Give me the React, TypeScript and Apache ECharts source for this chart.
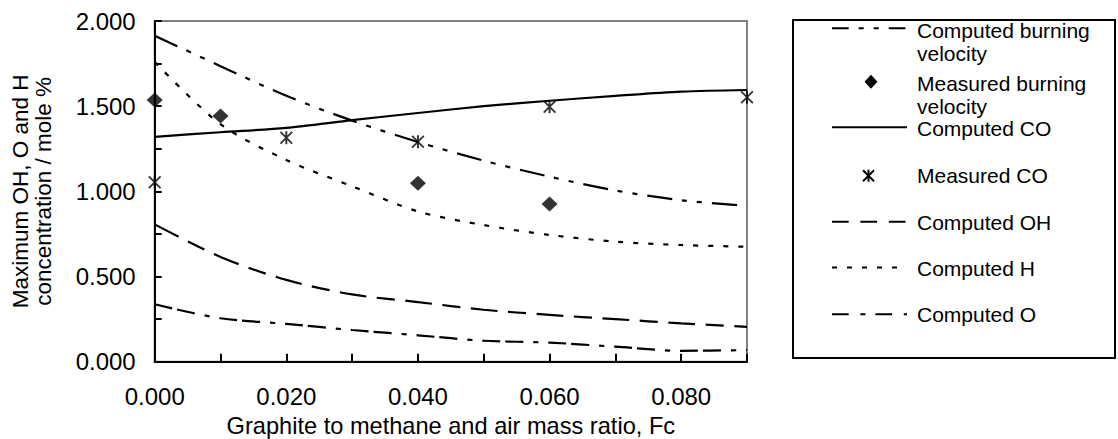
import React, { useEffect, useRef } from "react";
import * as echarts from "echarts";

const FONT = '"Liberation Sans", Arial, Helvetica, sans-serif';

// x positions of the computed curves (Fc)
const xs = [0, 0.01, 0.02, 0.03, 0.04, 0.05, 0.06, 0.07, 0.08, 0.09];
const computedBV = [1.914, 1.735, 1.561, 1.415, 1.29, 1.18, 1.086, 1.005, 0.948, 0.915];
const computedCO = [1.32, 1.347, 1.373, 1.418, 1.46, 1.5, 1.532, 1.56, 1.585, 1.595];
const computedOH = [0.806, 0.615, 0.48, 0.395, 0.35, 0.305, 0.275, 0.25, 0.225, 0.205];
const computedH = [1.76, 1.394, 1.184, 1.03, 0.882, 0.802, 0.744, 0.705, 0.685, 0.675];
const computedO = [0.337, 0.255, 0.222, 0.186, 0.155, 0.123, 0.112, 0.088, 0.064, 0.068];

const measuredBVx = [0, 0.01, 0.04, 0.06];
const measuredBV = [1.536, 1.442, 1.047, 0.926];
const measuredCOx = [0, 0.02, 0.04, 0.06, 0.09];
const measuredCO = [1.053, 1.315, 1.291, 1.497, 1.552];

const legendNames = [
  "Computed burning\nvelocity",
  "Measured burning\nvelocity",
  "Computed CO",
  "Measured CO",
  "Computed OH",
  "Computed H",
  "Computed O",
];

const ASTERISK =
  "path://M5.1 0H6.9V12H5.1Z M0 1.2L1.2 0L12 10.8L10.8 12Z M10.8 0L12 1.2L1.2 12L0 10.8Z";

function pairs(x: number[], y: number[]) {
  return x.map((v, i) => [v, y[i]]);
}

export default function App() {
  const ref = useRef<HTMLDivElement>(null);

  useEffect(() => {
    if (!ref.current) return;
    const chart = echarts.init(ref.current, undefined, { renderer: "svg" });

    const lineSeries = (name: string, data: number[], dash: number[] | "solid") => ({
      name,
      type: "line",
      data: pairs(xs, data),
      smooth: 0.3,
      symbol: "none",
      showSymbol: false,
      lineStyle: { color: "#000", width: 2.2, type: dash },
      z: 3,
    });

    // legend drawn with graphic elements
    const lx1 = 832;
    const lx2 = 907;
    const tx = 917;
    const rows = [28.3, 81.7, 127.3, 175.7, 221.7, 267.5, 314.3];
    const textCenters = [30, 83, 128, 175.5, 222, 268, 314.5];
    const legendDash: (number[] | null)[] = [
      [16.7, 10, 5, 10, 5, 10],
      null,
      null,
      null,
      [16.7, 11.7],
      [5, 10],
      [16.7, 11.7, 5, 10],
    ];
    const graphics: any[] = [
      {
        type: "rect",
        shape: { x: 793, y: 20, width: 322, height: 338 },
        style: { fill: "#fff", stroke: "#000", lineWidth: 2 },
        z: 10,
      },
    ];
    rows.forEach((y, i) => {
      if (i === 1) {
        graphics.push({
          type: "polygon",
          shape: { points: [[871, y - 7], [877.5, y], [871, y + 7], [864.5, y]] },
          style: { fill: "#000" },
          z: 11,
        });
      } else if (i === 3) {
        const cx = 868.5;
        graphics.push(
          { type: "line", shape: { x1: cx, y1: y - 6, x2: cx, y2: y + 6 }, style: { stroke: "#000", lineWidth: 2 }, z: 11 },
          { type: "line", shape: { x1: cx - 5.5, y1: y - 5.5, x2: cx + 5.5, y2: y + 5.5 }, style: { stroke: "#000", lineWidth: 2 }, z: 11 },
          { type: "line", shape: { x1: cx + 5.5, y1: y - 5.5, x2: cx - 5.5, y2: y + 5.5 }, style: { stroke: "#000", lineWidth: 2 }, z: 11 }
        );
      } else {
        const style: any = { stroke: "#000", lineWidth: 2 };
        if (legendDash[i]) style.lineDash = legendDash[i];
        graphics.push({
          type: "line",
          shape: { x1: lx1, y1: y, x2: lx2, y2: y },
          style,
          z: 11,
        });
      }
      graphics.push({
        type: "text",
        x: tx,
        y: textCenters[i] - 11.5,
        style: {
          text: legendNames[i],
          fontSize: 21,
          fontFamily: FONT,
          fill: "#000",
          lineHeight: 23,
          align: "left",
          verticalAlign: "top",
        },
        z: 11,
      });
    });

    chart.setOption({
      animation: false,
      backgroundColor: "#fff",
      grid: {
        left: 154.7,
        right: 371,
        top: 21,
        bottom: 77.3,
        show: true,
        borderColor: "#808080",
        borderWidth: 2,
        backgroundColor: "transparent",
        outerBoundsMode: "none",
        containLabel: false,
      },
      xAxis: {
        type: "value",
        min: 0,
        max: 0.09,
        interval: 0.01,
        name: "Graphite to methane and air mass ratio, Fc",
        nameLocation: "middle",
        nameGap: 51,
        nameTextStyle: { fontSize: 23.6, fontFamily: FONT, color: "#000" },
        axisLine: { show: true, lineStyle: { color: "#000", width: 2 } },
        axisTick: { show: true, inside: true, length: 8, lineStyle: { color: "#000", width: 2 } },
        splitLine: { show: false },
        axisLabel: {
          fontSize: 24,
          fontFamily: FONT,
          color: "#000",
          margin: 23,
          formatter: (v: number) => {
            const k = Math.round(v * 1000);
            return k % 20 === 0 && k < 90 ? v.toFixed(3) : "";
          },
        },
      },
      yAxis: {
        type: "value",
        min: 0,
        max: 2,
        interval: 0.25,
        name: "Maximum OH, O and H\nconcentration / mole %",
        nameLocation: "middle",
        nameGap: 100,
        nameTextStyle: { fontSize: 22.5, fontFamily: FONT, color: "#000", lineHeight: 23 },
        axisLine: { show: true, lineStyle: { color: "#000", width: 2 } },
        axisTick: { show: true, inside: true, length: 7, lineStyle: { color: "#000", width: 2 } },
        splitLine: { show: false },
        axisLabel: {
          fontSize: 24,
          fontFamily: FONT,
          color: "#000",
          margin: 19,
          formatter: (v: number) => (Math.round(v * 1000) % 500 === 0 ? v.toFixed(3) : ""),
        },
      },
      series: [
        lineSeries("Computed burning velocity", computedBV, [25, 10, 5, 10, 5, 10]),
        lineSeries("Computed CO", computedCO, "solid"),
        lineSeries("Computed OH", computedOH, [27, 10.5, 18, 10.5]),
        lineSeries("Computed H", computedH, [5, 10]),
        lineSeries("Computed O", computedO, [18, 5, 18, 10, 5, 10]),
        {
          name: "Measured burning velocity",
          type: "scatter",
          data: pairs(measuredBVx, measuredBV),
          symbol: "diamond",
          symbolSize: [16, 15],
          itemStyle: { color: "#000" },
          clip: false,
          z: 5,
        },
        {
          name: "Measured CO",
          type: "scatter",
          data: pairs(measuredCOx, measuredCO),
          symbol: ASTERISK,
          symbolSize: 13,
          itemStyle: { color: "#000" },
          clip: false,
          z: 5,
        },
      ],
      graphic: graphics,
    });

    return () => chart.dispose();
  }, []);

  return (
    <div
      ref={ref}
      style={{ position: "fixed", left: 0, top: 0, width: 1118, height: 439, background: "#fff" }}
    />
  );
}
